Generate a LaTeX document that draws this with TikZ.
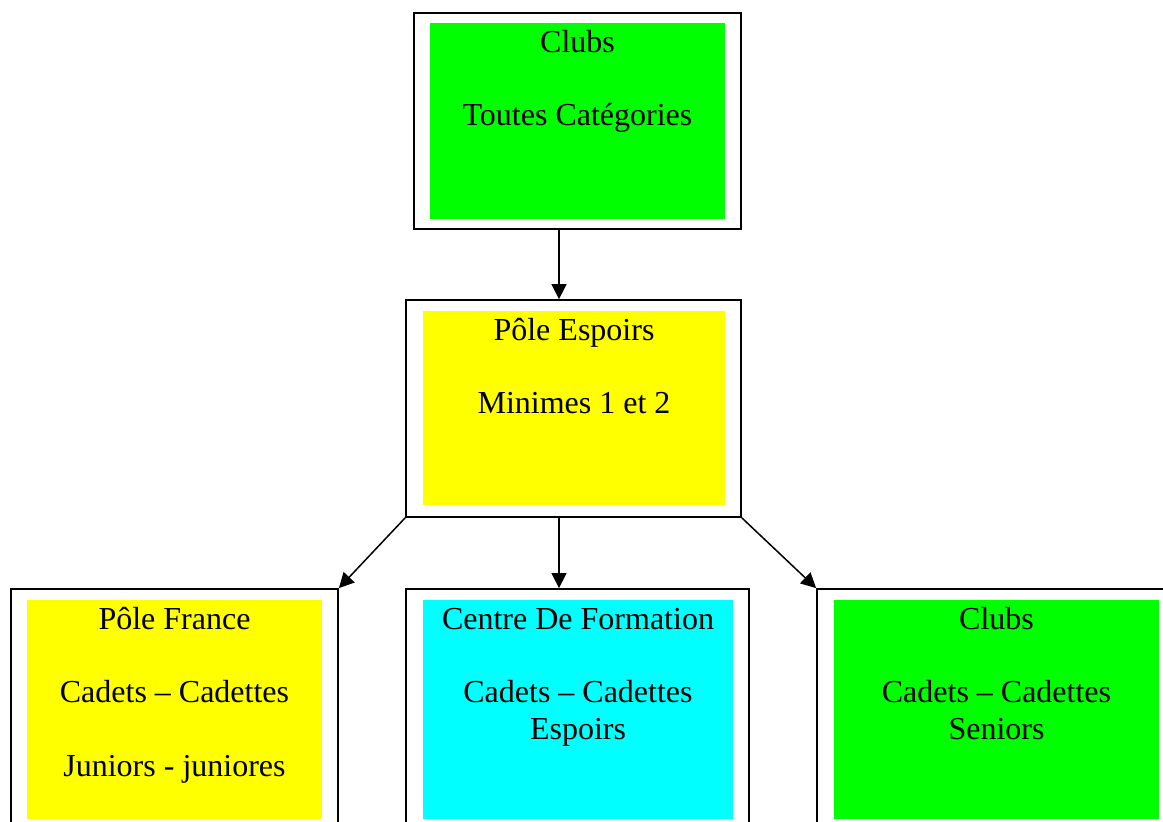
\documentclass[tikz,border=0pt]{standalone}
\usepackage{fontspec}
\setmainfont{Liberation Serif}
\usepackage{tikz}
\usetikzlibrary{arrows.meta}

\definecolor{vert}{RGB}{0,255,0}
\definecolor{jaune}{RGB}{255,255,0}
\definecolor{turquoise}{RGB}{0,255,255}

\tikzset{
	cadre/.style={draw, line width=1.8pt, inner sep=0pt},
	fond/.style={inner sep=0pt, text height=29pt, align=center,
		font=\fontsize{32}{36.8}\selectfont,
		execute at begin node={\spaceskip=8pt\relax}},
	fleche/.style={line width=1.5pt, -{Triangle[length=15pt,width=15pt]}}
}

\begin{document}
\begin{tikzpicture}[x=1pt,y=-1pt]
\path[use as bounding box, clip] (0,0) rectangle (1163,822);

% haut
\node[cadre, minimum width=327pt, minimum height=216pt] (clubsA) at (577.5,121) {};
\node[fond, fill=vert, text width=295pt, text depth=167pt] (clubsAtxt) at (577.5,121)
	{Clubs\\ ~\\ Toutes Catégories};

% milieu
\node[cadre, minimum width=335pt, minimum height=217pt] (espoirs) at (573.5,408.5) {};
\node[fond, fill=jaune, text width=302pt, text depth=165pt] (espoirstxt) at (574,408)
	{Pôle Espoirs\\ ~\\ Minimes 1 et 2};

% bas
\node[cadre, minimum width=327pt, minimum height=241pt] (france) at (174.5,709.5) {};
\node[fond, fill=jaune, text width=295pt, text depth=190pt] (francetxt) at (174.5,709.5)
	{Pôle France\\ ~\\ Cadets – Cadettes\\ ~\\ Juniors - juniores};

\node[cadre, minimum width=343pt, minimum height=241pt] (formation) at (577.5,709.5) {};
\node[fond, fill=turquoise, text width=310pt, text depth=190pt] (formationtxt) at (578,709.5)
	{Centre De Formation\\ ~\\ Cadets – Cadettes\\ Espoirs};

\node[cadre, minimum width=358pt, minimum height=241pt] (clubsB) at (996,709.5) {};
\node[fond, fill=vert, text width=325pt, text depth=190pt] (clubsBtxt) at (996.5,709.5)
	{Clubs\\ ~\\ Cadets – Cadettes\\ Seniors};

% fleches
\coordinate (axe) at (559,0);
\draw[fleche] (clubsA.south -| axe) -- (espoirs.north -| axe);
\draw[fleche] (espoirs.south -| axe) -- (formation.north -| axe);
\draw[fleche] (espoirs.south west) -- (france.north east);
\draw[fleche] (espoirs.south east) -- (clubsB.north west);
\end{tikzpicture}
\end{document}
